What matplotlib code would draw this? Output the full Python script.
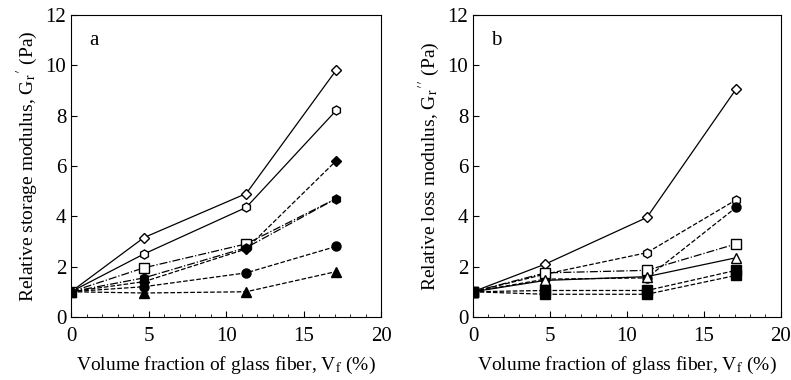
import numpy as np
import matplotlib.pyplot as plt
from matplotlib.ticker import MultipleLocator

plt.rcParams['font.family'] = ['Liberation Serif', 'DejaVu Serif']
plt.rcParams['mathtext.fontset'] = 'stix'

vf = [0, 4.7, 11.3, 17.1]

# panel a: relative storage modulus
a_open_diamond = [1, 3.15, 4.9, 9.8]
a_open_hex = [1, 2.5, 4.35, 8.2]
a_open_square = [1, 1.95, 2.9, 4.7]
a_fill_diamond = [1, 1.4, 2.7, 6.2]
a_fill_hex = [1, 1.55, 2.75, 4.7]
a_fill_circle = [1, 1.2, 1.75, 2.8]
a_fill_triangle = [1, 0.95, 1.0, 1.8]

# panel b: relative loss modulus
b_open_diamond = [1, 2.1, 3.95, 9.05]
b_open_hex = [1, 1.7, 2.55, 4.65]
b_fill_circle = [1, 1.5, 1.55, 4.35]
b_open_square = [1, 1.75, 1.85, 2.9]
b_open_triangle = [1, 1.45, 1.6, 2.35]
b_fill_square = [1, 1.05, 1.05, 1.85]
b_fill_square2 = [1, 0.9, 0.9, 1.65]

# (values, marker, face, linestyle, which points get a marker)
series_a = [
    (a_open_diamond, 'D', 'white', '-', None),
    (a_open_hex, 'h', 'white', '-', None),
    (a_open_square, 's', 'white', '-.', [0, 1, 2]),
    (a_fill_diamond, 'D', 'black', '--', None),
    (a_fill_hex, 'h', 'black', '-.', None),
    (a_fill_circle, 'o', 'black', '--', None),
    (a_fill_triangle, '^', 'black', '--', None),
]
series_b = [
    (b_open_diamond, 'D', 'white', '-', None),
    (b_open_hex, 'h', 'white', '--', None),
    (b_fill_circle, 'o', 'black', '--', None),
    (b_open_square, 's', 'white', '-.', None),
    (b_open_triangle, '^', 'white', '-', None),
    (b_fill_square, 's', 'black', '--', None),
    (b_fill_square2, 's', 'black', '--', None),
]

fig = plt.figure(figsize=(7.91, 3.8), dpi=100)
ax1 = fig.add_axes([0.0898, 0.166, 0.392, 0.795])
ax2 = fig.add_axes([0.598, 0.166, 0.389, 0.795])

ylabels = ["Relative storage modulus, G$_\\mathrm{r}$$'$ (Pa)",
           "Relative loss modulus, G$_\\mathrm{r}$$''$ (Pa)"]

for ax, series, lab, yl in [(ax1, series_a, 'a', ylabels[0]), (ax2, series_b, 'b', ylabels[1])]:
    for vals, mk, fc, ls, every in series:
        ms = 6.5 if mk != 'D' else 5.5
        ax.plot(vf, vals, ls=ls, color='black', lw=0.9, marker=mk, ms=ms,
                mfc=fc, mec='black', mew=1.0, markevery=every)
    ax.set_xlim(0, 20)
    ax.set_ylim(0, 12)
    ax.xaxis.set_major_locator(MultipleLocator(5))
    ax.xaxis.set_minor_locator(MultipleLocator(1))
    ax.yaxis.set_major_locator(MultipleLocator(2))
    ax.tick_params(direction='in', labelsize=15, length=4, width=0.8)
    ax.tick_params(axis='x', pad=7)
    ax.tick_params(which='minor', direction='in', length=2, width=0.6)
    for s in ax.spines.values():
        s.set_linewidth(0.8)
    ax.set_xlabel("Volume fraction of glass fiber, V$_\\mathrm{f}$ (%)", fontsize=14, labelpad=7)
    ax.set_ylabel(yl, fontsize=14, labelpad=4)
    ax.text(0.06, 0.9, lab, transform=ax.transAxes, fontsize=15)

fig.savefig('out.png', dpi=100)
